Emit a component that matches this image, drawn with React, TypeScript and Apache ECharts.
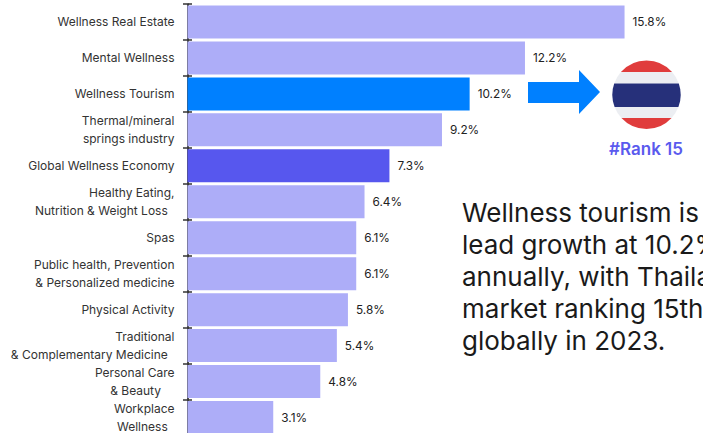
import React, { useEffect, useRef } from "react";
import * as echarts from "echarts";

const categories = [
  "Wellness Real Estate",
  "Mental Wellness",
  "Wellness Tourism",
  "Thermal/mineral\nsprings industry",
  "Global Wellness Economy",
  "Healthy Eating,\nNutrition & Weight Loss  ",
  "Spas",
  "Public health, Prevention\n& Personalized medicine",
  "Physical Activity",
  "Traditional\n& Complementary Medicine  ",
  "Personal Care\n& Beauty    ",
  "Workplace\nWellness  ",
];
const growthRates = [15.8, 12.2, 10.2, 9.2, 7.3, 6.4, 6.1, 6.1, 5.8, 5.4, 4.8, 3.1];
const highlightColors: Record<string, string> = {
  "Wellness Tourism": "#0080ff",
  "Global Wellness Economy": "#5757ee",
};
const baseColor = "#adadf8";
const noteLines = [
  "Wellness tourism is",
  "lead growth at 10.2%",
  "annually, with Thailand's",
  "market ranking 15th",
  "globally in 2023.",
];
const rankLabel = "#Rank 15";

const FONT = "Inter, 'Noto Sans', sans-serif";

// Horizontal slice of the flag's disc between two y values.
function discSlice(cx: number, cy: number, r: number, y1: number, y2: number) {
  const half = (y: number) => Math.sqrt(Math.max(0, r * r - (y - cy) * (y - cy)));
  const a = half(y1);
  const b = half(y2);
  return (
    `M${cx - a} ${y1}L${cx + a} ${y1}` +
    `A${r} ${r} 0 0 1 ${cx + b} ${y2}` +
    `L${cx - b} ${y2}` +
    `A${r} ${r} 0 0 1 ${cx - a} ${y1}Z`
  );
}

const flagStripes = [
  { name: "flagRedTop", y1: 60.5, y2: 72, fill: "#e03c3c" },
  { name: "flagWhiteTop", y1: 72, y2: 83.5, fill: "#eceef2" },
  { name: "flagBlue", y1: 83.5, y2: 107, fill: "#26307a" },
  { name: "flagWhiteBottom", y1: 107, y2: 118, fill: "#eceef2" },
  { name: "flagRedBottom", y1: 118, y2: 129, fill: "#e03c3c" },
];
flagStripes.forEach((s) => {
  echarts.graphic.registerShape(
    s.name,
    echarts.graphic.extendPath(discSlice(646.5, 94.7, 34.2, s.y1, s.y2), {})
  );
});

export default function App() {
  const ref = useRef<HTMLDivElement>(null);

  useEffect(() => {
    const chart = echarts.init(ref.current!, undefined, { renderer: "svg" });
    chart.setOption({
      animation: false,
      backgroundColor: "#ffffff",
      grid: { left: 187.5, top: 4, width: 497.9, height: 431.5, containLabel: false },
      xAxis: { type: "value", min: 0, max: 18, show: false },
      yAxis: [
        {
          type: "category",
          data: categories,
          inverse: true,
          axisLine: { show: true, lineStyle: { color: "#111111", width: 1.5 } },
          axisTick: { show: true, length: 4.5, lineStyle: { color: "#333333", width: 1.5 } },
          axisLabel: {
            interval: 0,
            hideOverlap: false,
            margin: 13,
            fontFamily: FONT,
            fontSize: 12,
            lineHeight: 18,
            color: "#333333",
            align: "right",
          },
        },
        {
          // Second copy of the axis supplies the inner half of each tick.
          type: "category",
          data: categories,
          inverse: true,
          position: "left",
          axisLine: { show: false },
          axisTick: { show: true, inside: true, length: 4.5, lineStyle: { color: "#333333", width: 1.5 } },
          axisLabel: { show: false },
        },
      ],
      series: [
        {
          type: "bar",
          barWidth: 33,
          data: growthRates.map((value, i) => ({
            value,
            itemStyle: { color: highlightColors[categories[i]] ?? baseColor },
          })),
          label: {
            show: true,
            position: "right",
            distance: 8,
            fontFamily: FONT,
            fontSize: 11.8,
            color: "#222222",
            formatter: (p: any) => `${p.value}%`,
          },
        },
      ],
      graphic: [
        {
          type: "polygon",
          shape: {
            points: [
              [528, 82],
              [579, 82],
              [579, 70],
              [600, 92],
              [579, 114],
              [579, 103],
              [528, 103],
            ],
          },
          style: { fill: "#0080ff" },
        },
        ...flagStripes.map((s) => ({
          type: s.name,
          x: 0,
          y: 0,
          style: { fill: s.fill },
        })),
        {
          type: "text",
          x: 646,
          y: 149,
          style: {
            text: rankLabel,
            fontFamily: FONT,
            fontSize: 17,
            fontWeight: 600,
            fill: "#5a5aee",
            align: "center",
            verticalAlign: "middle",
          },
        },
        ...noteLines.map((line, i) => ({
          type: "text",
          x: 462,
          y: 212 + i * 32,
          style: {
            text: line,
            fontFamily: FONT,
            fontSize: 26,
            fill: "#1a1a1a",
            align: "left",
            verticalAlign: "middle",
          },
        })),
      ],
    });
    return () => chart.dispose();
  }, []);

  // The plot runs a little past the bottom edge, so the chart is taller than its frame.
  return (
    <div style={{ position: "fixed", left: 0, top: 0, width: 703, height: 433, overflow: "hidden" }}>
      <div ref={ref} style={{ width: 703, height: 445 }} />
    </div>
  );
}
